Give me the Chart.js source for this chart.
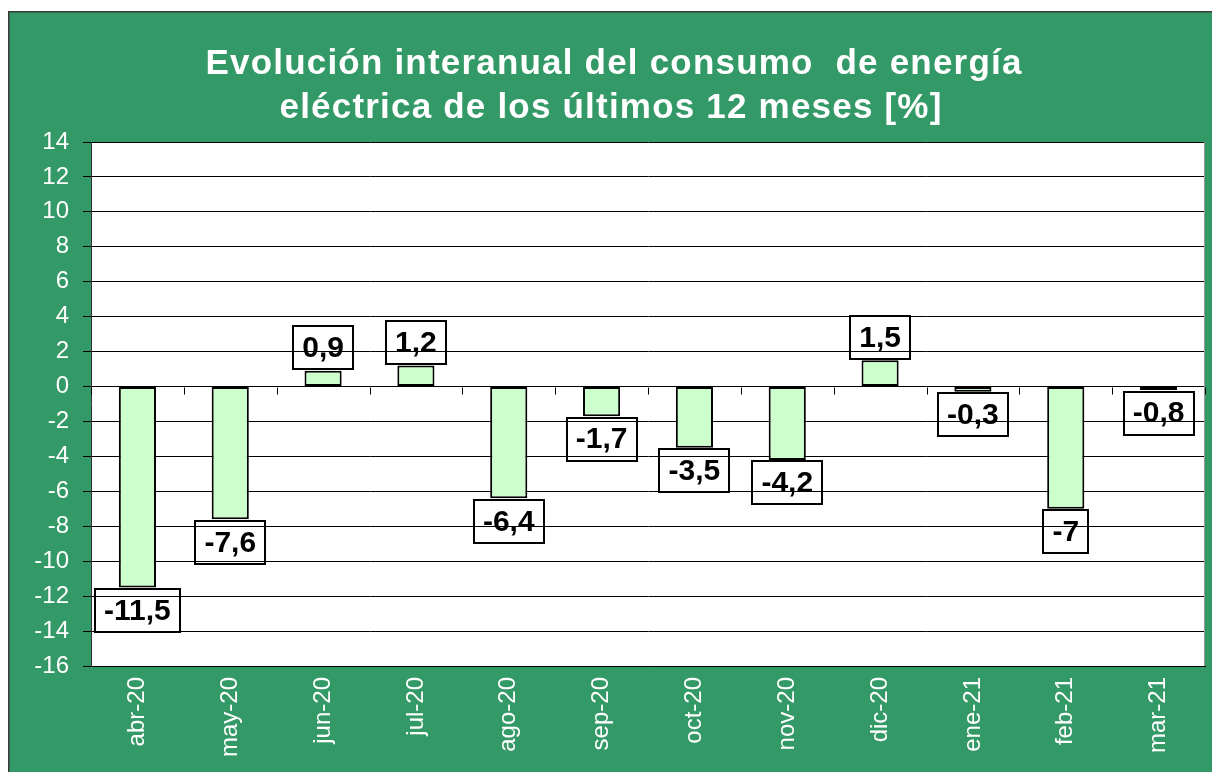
<!DOCTYPE html>
<html><head><meta charset="utf-8">
<script src="https://cdn.jsdelivr.net/npm/chart.js@4"></script>
<style>html,body{margin:0;padding:0;background:#fff;overflow:hidden}#wrap{width:1212px;height:772px;position:relative}</style>
</head><body><div id="wrap"><canvas id="c" width="1212" height="772"></canvas></div>
<script>
const categories = ['abr-20','may-20','jun-20','jul-20','ago-20','sep-20','oct-20','nov-20','dic-20','ene-21','feb-21','mar-21'];
const values = [-11.5, -7.6, 0.9, 1.2, -6.4, -1.7, -3.5, -4.2, 1.5, -0.3, -7, -0.2];
const valueLabels = ['-11,5','-7,6','0,9','1,2','-6,4','-1,7','-3,5','-4,2','1,5','-0,3','-7','-0,8'];
const titleLines = ['Evolución interanual del consumo  de energía', 'eléctrica de los últimos 12 meses [%]'];
const yMin = -16, yMax = 14, yStep = 2;

const GREEN = '#339966';
const FONT = '"Liberation Sans", Arial, sans-serif';

const frame = {
  id: 'frame',
  beforeDraw(chart) {
    const {ctx, width, height, chartArea: a} = chart;
    ctx.save();
    ctx.fillStyle = '#fff';
    ctx.fillRect(0, 0, width, height);
    ctx.fillStyle = GREEN;
    ctx.fillRect(8, 11, width - 8, height - 11);
    ctx.fillStyle = '#3a3a3a';
    ctx.fillRect(8, 11, 1.5, height - 11);
    ctx.fillRect(8, 11, width - 8, 1.5);
    ctx.fillStyle = '#fff';
    ctx.fillRect(a.left, a.top, a.right - a.left, a.bottom - a.top);
    // title
    ctx.fillStyle = '#fff';
    ctx.font = 'bold 35px ' + FONT;
    ctx.textAlign = 'center';
    ctx.textBaseline = 'alphabetic';
    try { ctx.letterSpacing = '1.2px'; } catch (e) {}
    ctx.fillText(titleLines[0], 614, 74);
    ctx.fillText(titleLines[1], 611, 118);
    try { ctx.letterSpacing = '0px'; } catch (e) {}
    ctx.restore();
  },
  beforeDatasetsDraw(chart) {
    const {ctx, chartArea: a, scales} = chart;
    const y0 = Math.round(scales.y.getPixelForValue(0)) + 0.5;
    const n = categories.length;
    const w = (a.right - a.left) / n;
    ctx.save();
    ctx.strokeStyle = '#000';
    ctx.lineWidth = 1;
    ctx.beginPath();
    for (let i = 0; i <= n; i++) {
      const x = Math.round(a.left + i * w) + 0.5;
      ctx.moveTo(x, y0);
      ctx.lineTo(x, y0 + 7);
    }
    ctx.stroke();
    ctx.restore();
  },
  afterDatasetsDraw(chart) {
    const {ctx, chartArea: a} = chart;
    const meta = chart.getDatasetMeta(0);
    ctx.save();
    ctx.strokeStyle = '#999';
    ctx.lineWidth = 1;
    ctx.beginPath();
    ctx.moveTo(a.right - 0.5, a.top);
    ctx.lineTo(a.right - 0.5, a.bottom);
    ctx.stroke();
    ctx.font = 'bold 30px ' + FONT;
    ctx.textAlign = 'center';
    ctx.textBaseline = 'middle';
    meta.data.forEach((bar, i) => {
      const txt = valueLabels[i];
      const v = values[i];
      const cy = v >= 0 ? bar.y - 23 : bar.y + 23;
      const tw = ctx.measureText(txt).width;
      const bw = Math.round(tw + 18), bh = 43;
      const bx = Math.round(bar.x - bw / 2), by = Math.round(cy - bh / 2);
      ctx.strokeStyle = '#000';
      ctx.lineWidth = 2;
      ctx.strokeRect(bx, by, bw, bh);
      ctx.fillStyle = '#000';
      ctx.fillText(txt, bar.x, cy + 1);
    });
    ctx.restore();
  }
};

new Chart(document.getElementById('c'), {
  type: 'bar',
  data: {
    labels: categories,
    datasets: [{
      data: values,
      backgroundColor: '#CCFFCC',
      borderColor: '#000',
      borderWidth: 2,
      borderSkipped: false,
      barPercentage: 0.4,
      categoryPercentage: 1.0
    }]
  },
  options: {
    responsive: false,
    animation: false,
    devicePixelRatio: 1,
    layout: { padding: { top: 142, left: 0, right: 7, bottom: 0 } },
    plugins: { legend: { display: false }, title: { display: false }, tooltip: { enabled: false } },
    scales: {
      x: {
        grid: { display: false, drawTicks: false },
        border: { display: true, color: '#000', width: 1 },
        ticks: { color: '#fff', font: { family: FONT, size: 24 }, maxRotation: 90, minRotation: 90, padding: 11, autoSkip: false },
        afterFit(s) { s.height = 106; }
      },
      y: {
        min: yMin, max: yMax,
        grid: { color: '#000', lineWidth: 1, drawTicks: true, tickLength: 8 },
        border: { display: true, color: '#333', width: 1 },
        ticks: { stepSize: yStep, color: '#fff', font: { family: FONT, size: 24 }, padding: 14 },
        afterFit(s) { s.width = 91; }
      }
    }
  },
  plugins: [frame]
});
</script>
</body></html>
